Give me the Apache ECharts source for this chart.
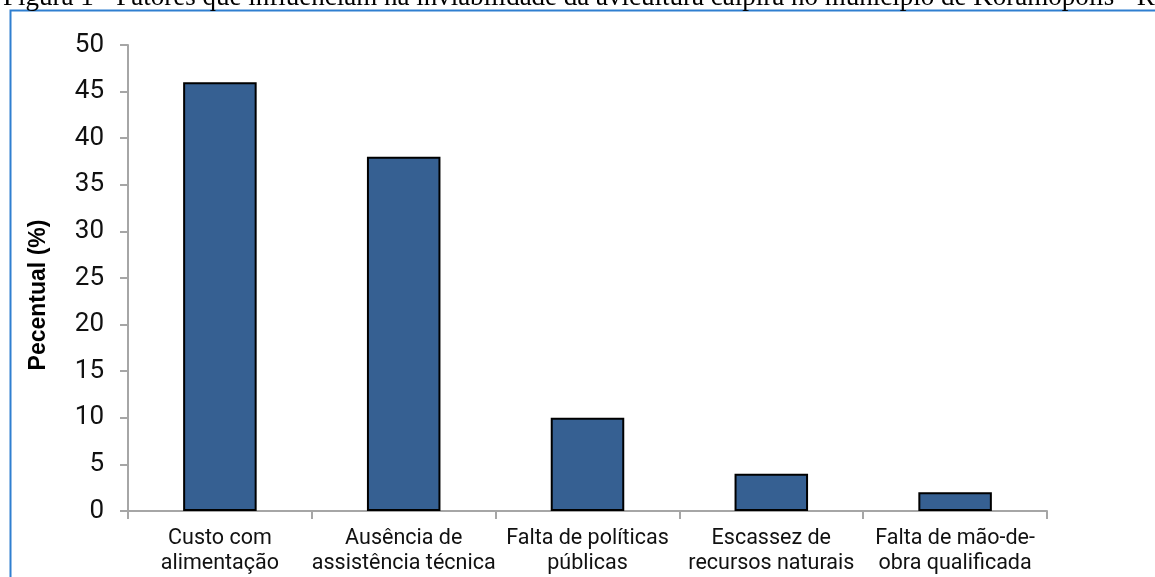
<!DOCTYPE html>
<html>
<head>
<meta charset="utf-8">
<script src="https://cdn.jsdelivr.net/npm/echarts@6/dist/echarts.min.js"></script>
<style>html,body{margin:0;padding:0;background:#fff;}#c{width:1155px;height:577px;}</style>
</head>
<body>
<div id="c"></div>
<script>
const titleText = 'Figura 1 - Fatores que influenciam na inviabilidade da avicultura caipira no município de Koramópolis - RN';
const categories = ['Custo com\nalimentação', 'Ausência de\nassistência técnica', 'Falta de políticas\npúblicas', 'Escassez de\nrecursos naturais', 'Falta de mão-de-\nobra qualificada'];
const values = [46, 38, 10, 4, 2];
const yTicks = { min: 0, max: 50, interval: 5 };
const yName = 'Pecentual (%)';

const chart = echarts.init(document.getElementById('c'), null, { renderer: 'canvas' });
chart.setOption({
  animation: false,
  backgroundColor: '#ffffff',
  graphic: [
    { type: 'text', left: 3, top: -16, z: 10, style: { text: titleText, font: '27px "Liberation Serif"', fill: '#000' } },
    { type: 'rect', shape: { x: 10.5, y: 10.5, width: 1300, height: 700 }, style: { fill: 'none', stroke: '#2f7fd0', lineWidth: 2 } },
    { type: 'text', x: 39, y: 295, rotation: Math.PI / 2, z: 10,
      style: { text: yName, font: 'bold 23px "Liberation Sans"', fill: '#000', align: 'center', verticalAlign: 'middle' } }
  ],
  grid: { left: 128, right: 108, top: 45, bottom: 66, containLabel: false },
  xAxis: {
    type: 'category',
    data: categories,
    axisLine: { lineStyle: { color: '#a6a6a6', width: 2 } },
    axisTick: { show: true, inside: false, length: 8, lineStyle: { color: '#a6a6a6', width: 2 } },
    axisLabel: { margin: 15, color: '#111', fontFamily: 'Roboto', fontSize: 21.5, lineHeight: 25, interval: 0 },
    splitLine: { show: false }
  },
  yAxis: {
    type: 'value',
    min: yTicks.min, max: yTicks.max, interval: yTicks.interval,
    axisLine: { show: true, lineStyle: { color: '#a6a6a6', width: 2 } },
    axisTick: { show: true, length: 8, lineStyle: { color: '#a6a6a6', width: 2 } },
    axisLabel: { margin: 24, color: '#111', fontFamily: 'Roboto', fontSize: 26 },
    splitLine: { show: false }
  },
  series: [{
    type: 'bar',
    data: values,
    barWidth: '40%',
    itemStyle: { color: '#366092', borderColor: '#000', borderWidth: 2 }
  }]
});
</script>
</body>
</html>
